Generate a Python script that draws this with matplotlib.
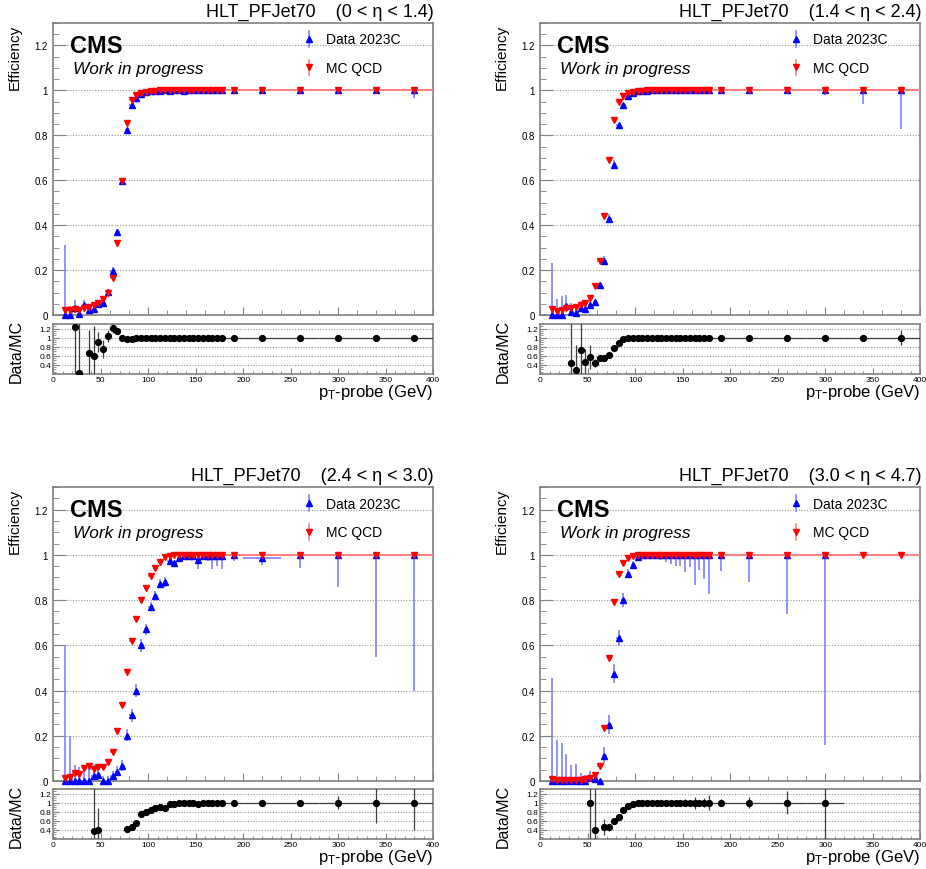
import numpy as np
import matplotlib
matplotlib.use("Agg")
import matplotlib.pyplot as plt
from matplotlib.ticker import MultipleLocator, FixedLocator, FuncFormatter

plt.rcParams["font.family"] = ["Liberation Sans", "DejaVu Sans"]
plt.rcParams["mathtext.fontset"] = "custom"
plt.rcParams["mathtext.rm"] = "Liberation Sans"
plt.rcParams["mathtext.it"] = "Liberation Sans:italic"
plt.rcParams["mathtext.bf"] = "Liberation Sans:bold"

# ---------------------------------------------------------------- binning
pt_edges = np.array([10, 15, 20, 25, 30, 35, 40, 45, 50, 55, 60, 65, 70, 75,
                     80, 85, 90, 95, 100, 105, 110, 115, 120, 125, 130, 135,
                     140, 145, 150, 155, 160, 165, 170, 175, 180,
                     200, 240, 280, 320, 360, 400], dtype=float)
pt_centers = 0.5 * (pt_edges[1:] + pt_edges[:-1])
pt_halfwidth = 0.5 * np.diff(pt_edges)

trigger_name = "HLT_PFJet70"
eta_ranges = ["0 < η < 1.4", "1.4 < η < 2.4", "2.4 < η < 3.0", "3.0 < η < 4.7"]
data_label = "Data 2023C"
mc_label = "MC QCD"
mc_stat_err = 0.006
nan = np.nan

# ------------------------------------------------------ 0 < eta < 1.4
eff_mc_b1 = [0.024, 0.024, 0.025, 0.024, 0.030, 0.034, 0.046, 0.053, 0.070, 0.100,
             0.163, 0.320, 0.598, 0.853, 0.955, 0.978, 0.990, 0.995, 0.998, 0.999,
             1.0, 1.0, 1.0, 1.0, 1.0, 1.0, 1.0, 1.0, 1.0, 1.0,
             1.0, 1.0, 1.0, 1.0, 1.0, 1.0, 1.0, 1.0, 1.0, 1.0]
eff_data_b1 = [0.0, 0.0, 0.031, 0.0053, 0.045, 0.0224, 0.0276, 0.048, 0.052, 0.104,
               0.196, 0.368, 0.598, 0.823, 0.936, 0.968, 0.985, 0.993, 0.997, 0.998,
               0.999, 1.0, 0.999, 1.0, 1.0, 0.999, 1.0, 1.0, 1.0, 1.0,
               1.0, 1.0, 1.0, 1.0, 1.0, 1.0, 1.0, 1.0, 1.0, 1.0]
err_lo_b1 = [0.0, 0.0, 0.020, 0.005, 0.015, 0.012, 0.015, 0.012, 0.014, 0.013,
             0.016, 0.016, 0.012, 0.008, 0.005, 0.004, 0.003, 0.002, 0.002, 0.002,
             0.002, 0.002, 0.002, 0.002, 0.002, 0.002, 0.002, 0.002, 0.002, 0.002,
             0.002, 0.002, 0.002, 0.002, 0.003, 0.004, 0.005, 0.008, 0.015, 0.033]
err_hi_b1 = [0.31, 0.04, 0.035, 0.03, 0.02, 0.017, 0.03, 0.012, 0.014, 0.013,
             0.016, 0.016, 0.012, 0.008, 0.005, 0.004, 0.003, 0.002, 0.002, 0.001,
             0.0, 0.0, 0.0, 0.0, 0.0, 0.0, 0.0, 0.0, 0.0, 0.0,
             0.0, 0.0, 0.0, 0.0, 0.0, 0.0, 0.0, 0.0, 0.0, 0.0]

# ------------------------------------------------------ 1.4 < eta < 2.4
eff_mc_b2 = [0.025, 0.019, 0.021, 0.031, 0.031, 0.037, 0.043, 0.055, 0.076, 0.130,
             0.241, 0.440, 0.690, 0.870, 0.950, 0.975, 0.990, 0.995, 0.998, 0.999,
             1.0, 1.0, 1.0, 1.0, 1.0, 1.0, 1.0, 1.0, 1.0, 1.0,
             1.0, 1.0, 1.0, 1.0, 1.0, 1.0, 1.0, 1.0, 1.0, 1.0]
eff_data_b2 = [0.0, 0.0, 0.0, 0.042, 0.014, 0.011, 0.031, 0.026, 0.043, 0.057,
               0.133, 0.242, 0.428, 0.670, 0.845, 0.936, 0.975, 0.990, 0.996, 0.998,
               0.999, 1.0, 1.0, 1.0, 1.0, 1.0, 1.0, 1.0, 1.0, 1.0,
               1.0, 1.0, 1.0, 1.0, 1.0, 1.0, 1.0, 1.0, 1.0, 1.0]
err_lo_b2 = [0.0, 0.0, 0.0, 0.015, 0.010, 0.008, 0.015, 0.012, 0.012, 0.012,
             0.015, 0.020, 0.020, 0.020, 0.012, 0.008, 0.005, 0.003, 0.002, 0.002,
             0.002, 0.002, 0.002, 0.002, 0.002, 0.002, 0.002, 0.002, 0.002, 0.002,
             0.002, 0.002, 0.002, 0.002, 0.004, 0.005, 0.008, 0.020, 0.060, 0.170]
err_hi_b2 = [0.23, 0.07, 0.085, 0.045, 0.04, 0.02, 0.03, 0.015, 0.02, 0.012,
             0.015, 0.020, 0.020, 0.020, 0.012, 0.008, 0.005, 0.003, 0.002, 0.001,
             0.0, 0.0, 0.0, 0.0, 0.0, 0.0, 0.0, 0.0, 0.0, 0.0,
             0.0, 0.0, 0.0, 0.0, 0.0, 0.0, 0.0, 0.0, 0.0, 0.0]

# ------------------------------------------------------ 2.4 < eta < 3.0
eff_mc_b3 = [0.013, 0.018, 0.037, 0.032, 0.058, 0.066, 0.052, 0.062, 0.063, 0.086,
             0.130, 0.220, 0.335, 0.480, 0.620, 0.715, 0.800, 0.855, 0.907, 0.940,
             0.970, 0.990, 0.997, 1.0, 1.0, 1.0, 1.0, 1.0, 1.0, 1.0,
             1.0, 1.0, 1.0, 1.0, 1.0, 1.0, 1.0, 1.0, 1.0, 1.0]
eff_data_b3 = [0.0, 0.0, 0.0, 0.0, 0.0, 0.0, 0.020, 0.025, 0.0, 0.0,
               0.020, 0.040, 0.065, 0.200, 0.290, 0.400, 0.600, 0.670, 0.770, 0.820,
               0.873, 0.880, 0.972, 0.962, 0.987, 0.993, 0.995, 0.995, 0.976, 0.995,
               0.997, 0.997, 0.997, 0.997, 1.0, 0.985, 1.0, 1.0, 1.0, 1.0]
err_lo_b3 = [0.0, 0.0, 0.0, 0.0, 0.0, 0.0, 0.015, 0.02, 0.0, 0.0,
             0.015, 0.015, 0.02, 0.025, 0.03, 0.03, 0.03, 0.025, 0.02, 0.02,
             0.02, 0.02, 0.01, 0.015, 0.01, 0.005, 0.005, 0.015, 0.04, 0.005,
             0.025, 0.06, 0.045, 0.06, 0.025, 0.03, 0.06, 0.14, 0.45, 0.60]
err_hi_b3 = [0.60, 0.20, 0.07, 0.06, 0.05, 0.06, 0.05, 0.03, 0.02, 0.02,
             0.025, 0.025, 0.03, 0.03, 0.03, 0.03, 0.03, 0.025, 0.02, 0.02,
             0.02, 0.02, 0.01, 0.012, 0.008, 0.005, 0.005, 0.005, 0.015, 0.005,
             0.003, 0.003, 0.003, 0.003, 0.0, 0.01, 0.0, 0.0, 0.0, 0.0]

# ------------------------------------------------------ 3.0 < eta < 4.7
eff_mc_b4 = [0.009, 0.004, 0.004, 0.006, 0.006, 0.004, 0.006, 0.010, 0.013, 0.025,
             0.065, 0.235, 0.543, 0.793, 0.915, 0.966, 0.984, 0.996, 1.0, 1.0,
             1.0, 1.0, 1.0, 1.0, 1.0, 1.0, 1.0, 1.0, 1.0, 1.0,
             1.0, 1.0, 1.0, 1.0, 1.0, 1.0, 1.0, 1.0, 1.0, 1.0]
eff_data_b4 = [0.0, 0.0, 0.0, 0.0, 0.0, 0.0, 0.0, 0.0, 0.013, 0.010,
               0.0, 0.110, 0.248, 0.472, 0.631, 0.800, 0.916, 0.956, 0.990, 1.0,
               1.0, 1.0, 1.0, 1.0, 1.0, 1.0, 1.0, 1.0, 1.0, 1.0,
               1.0, 1.0, 1.0, 1.0, 1.0, 1.0, 1.0, 1.0, nan, nan]
err_lo_b4 = [0.0, 0.0, 0.0, 0.0, 0.0, 0.0, 0.0, 0.0, 0.010, 0.007,
             0.0, 0.03, 0.04, 0.04, 0.035, 0.03, 0.02, 0.015, 0.01, 0.003,
             0.006, 0.01, 0.016, 0.024, 0.03, 0.04, 0.05, 0.048, 0.078, 0.052,
             0.134, 0.066, 0.105, 0.171, 0.07, 0.12, 0.26, 0.84, nan, nan]
err_hi_b4 = [0.457, 0.18, 0.167, 0.12, 0.07, 0.074, 0.037, 0.025, 0.03, 0.03,
             0.01, 0.04, 0.045, 0.045, 0.035, 0.03, 0.02, 0.015, 0.01, 0.0,
             0.0, 0.0, 0.0, 0.0, 0.0, 0.0, 0.0, 0.0, 0.0, 0.0,
             0.0, 0.0, 0.0, 0.0, 0.0, 0.0, 0.0, 0.0, nan, nan]

panels = [
    (eta_ranges[0], eff_data_b1, err_lo_b1, err_hi_b1, eff_mc_b1),
    (eta_ranges[1], eff_data_b2, err_lo_b2, err_hi_b2, eff_mc_b2),
    (eta_ranges[2], eff_data_b3, err_lo_b3, err_hi_b3, eff_mc_b3),
    (eta_ranges[3], eff_data_b4, err_lo_b4, err_hi_b4, eff_mc_b4),
]

# ---------------------------------------------------------------- layout
W, H = 926, 870
fig = plt.figure(figsize=(W / 100, H / 100), dpi=100)
fig.patch.set_facecolor("white")

PW = 380.0
col_x0 = [53.3, 540.3]
row_main = [(24.0, 316.0), (488.0, 782.0)]
row_ratio = [(325.0, 375.0), (790.0, 840.0)]

FRAME = "#808080"
GRID = "#9a9a9a"
RATIO_RANGE = (0.2, 1.3)
fmt_g = FuncFormatter(lambda v, p: f"{v:g}")


def add_px_axes(x0, ytop, ybot):
    return fig.add_axes([x0 / W, 1 - ybot / H, PW / W, (ybot - ytop) / H])


def style_frame(ax):
    for s in ax.spines.values():
        s.set_color(FRAME)
        s.set_linewidth(1.2)
    ax.tick_params(which="both", direction="in", color=FRAME,
                   top=False, right=False, labelcolor="black")


for idx, (eta, data, lo, hi, mc) in enumerate(panels):
    r, c = divmod(idx, 2)
    data = np.asarray(data, float)
    lo = np.asarray(lo, float)
    hi = np.asarray(hi, float)
    mc = np.asarray(mc, float)

    ax = add_px_axes(col_x0[c], *row_main[r])
    rax = add_px_axes(col_x0[c], *row_ratio[r])

    # ---------------- efficiency panel
    style_frame(ax)
    ax.set_xlim(0, 400)
    ax.set_ylim(0, 1.3)
    ax.xaxis.set_major_locator(MultipleLocator(100))
    ax.xaxis.set_minor_locator(MultipleLocator(20))
    ax.yaxis.set_major_locator(MultipleLocator(0.2))
    ax.yaxis.set_minor_locator(MultipleLocator(0.05))
    ax.yaxis.set_major_formatter(fmt_g)
    ax.tick_params(axis="x", which="major", length=6, labelbottom=False)
    ax.tick_params(axis="x", which="minor", length=3.5)
    ax.tick_params(axis="y", which="major", length=9, labelsize=7, pad=4)
    ax.tick_params(axis="y", which="minor", length=4.5)
    ax.grid(axis="y", which="major", linestyle=(0, (1, 1.5)), color=GRID, lw=0.8)
    ax.set_axisbelow(True)

    ax.errorbar(pt_centers, data, xerr=pt_halfwidth, yerr=[lo, hi], fmt="none",
                ecolor="#8080ff", elinewidth=1.2, zorder=3)
    ax.plot(pt_centers, data, ls="none", marker="^", ms=4.5, color="#0000ff",
            zorder=4, clip_on=False)
    mc_lo = np.minimum(mc_stat_err, mc)
    mc_hi = np.minimum(mc_stat_err, 1.0 - mc)
    ax.errorbar(pt_centers, mc, xerr=pt_halfwidth, yerr=[mc_lo, mc_hi], fmt="none",
                ecolor="#ff8080", elinewidth=1.4, zorder=5)
    ax.plot(pt_centers, mc, ls="none", marker="v", ms=4.5, color="#ff0000",
            zorder=6, clip_on=False)

    # title
    ax.text(1.002, 1.025, f"{trigger_name}    ({eta})", transform=ax.transAxes,
            ha="right", va="baseline", fontsize=13)
    # experiment label
    ax.text(0.044, 0.902, "CMS", transform=ax.transAxes, ha="left", va="baseline",
            fontsize=17, fontweight="bold")
    ax.text(0.051, 0.829, "Work in progress", transform=ax.transAxes, ha="left",
            va="baseline", fontsize=12.4, style="italic")
    # legend
    lx, tx = 0.673, 0.718
    for ly, tyb, mk, col, ecol, lab in [(0.946, 0.930, "^", "#0000ff", "#8080ff", data_label),
                                       (0.848, 0.833, "v", "#ff0000", "#ff8080", mc_label)]:
        ax.plot([lx, lx], [ly - 0.027, ly + 0.027], transform=ax.transAxes,
                color=ecol, lw=1.2, clip_on=False, zorder=7)
        ax.plot([lx], [ly], transform=ax.transAxes, marker=mk, ms=4.5, color=col,
                ls="none", clip_on=False, zorder=8)
        ax.text(tx, tyb, lab, transform=ax.transAxes, ha="left", va="baseline",
                fontsize=10)
    # y title
    ax.text(-0.1008, 0.997, "Efficiency", transform=ax.transAxes, rotation=90,
            ha="center", va="top", fontsize=11)

    # ---------------- ratio panel
    style_frame(rax)
    rax.set_xlim(0, 400)
    rax.set_ylim(*RATIO_RANGE)
    rax.xaxis.set_major_locator(MultipleLocator(50))
    rax.xaxis.set_minor_locator(MultipleLocator(10))
    rax.yaxis.set_major_locator(FixedLocator([0.4, 0.6, 0.8, 1.0, 1.2]))
    rax.yaxis.set_minor_locator(MultipleLocator(0.05))
    rax.yaxis.set_major_formatter(fmt_g)
    rax.tick_params(axis="x", which="major", length=4, labelsize=6, pad=1.5)
    rax.tick_params(axis="x", which="minor", length=2)
    rax.tick_params(axis="y", which="major", length=4, labelsize=6, pad=1.5)
    rax.tick_params(axis="y", which="minor", length=2)
    rax.grid(axis="y", which="major", linestyle=(0, (1, 1.5)), color=GRID, lw=0.8)
    rax.set_axisbelow(True)

    valid = np.isfinite(data) & (data > 0)
    ratio = np.full_like(data, np.nan)
    ratio[valid] = data[valid] / mc[valid]
    ratio_err = np.full_like(data, np.nan)
    ratio_err[valid] = np.maximum(lo[valid], hi[valid]) / mc[valid]
    show = valid & (ratio >= RATIO_RANGE[0]) & (ratio <= RATIO_RANGE[1])
    rax.errorbar(pt_centers[show], ratio[show], xerr=pt_halfwidth[show],
                 yerr=ratio_err[show], fmt="none", ecolor="#3c3c3c",
                 elinewidth=0.9, zorder=3)
    rax.plot(pt_centers[show], ratio[show], ls="none", marker="o", ms=4.2,
             color="black", zorder=4)

    rax.text(-0.098, 0.47, "Data/MC", transform=rax.transAxes, rotation=90,
             ha="center", va="center", fontsize=11.5)
    rax.text(1.0, -0.44, r"p$_{\mathrm{T}}$-probe (GeV)", transform=rax.transAxes,
             ha="right", va="baseline", fontsize=12)

fig.savefig("out.png", dpi=100)
